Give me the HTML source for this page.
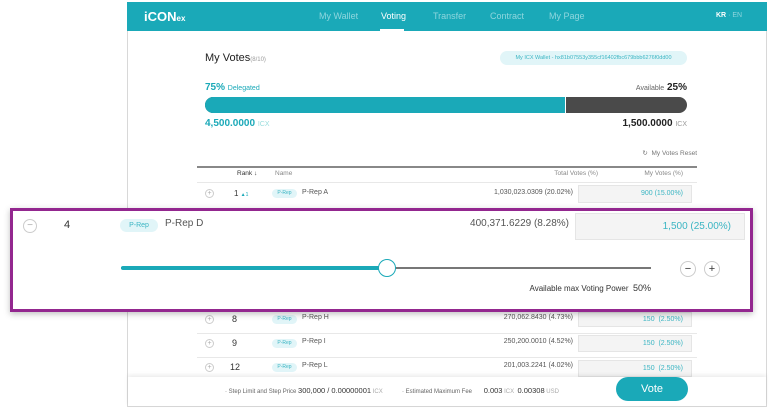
<!DOCTYPE html>
<html><head><meta charset="utf-8"><style>
*{margin:0;padding:0;box-sizing:border-box}
body{width:769px;height:411px;overflow:hidden;background:#fff;font-family:"Liberation Sans",sans-serif;position:relative;color:#333}
.a{position:absolute;white-space:nowrap}
.frame{left:127px;top:2px;width:640px;height:405px;border:1px solid #d8d8d8;background:#fff}
.hdr{left:127px;top:2px;width:640px;height:29px;background:#1aa9b8}
.nav{top:11px;font-size:9px;color:#8fd6de}
.pill{background:#e1f5f8;color:#3bb5c3;border-radius:8px;font-size:6px;text-align:center}
.circ{border:1px solid #ccc;border-radius:50%;color:#aaa;text-align:center;background:#fff}
.box{background:#f4f4f4;border:1px solid #e5e5e5;color:#3bb5c3;text-align:right}
.line{height:1px;background:#e8e8e8}
</style></head><body>
<div class="a frame"></div>
<div class="a hdr"></div>
<div class="a" style="left:144px;top:9px;font-size:13px;color:#fff;font-weight:bold">iCON<span style="font-size:8px">ex</span></div>
<div class="a nav" style="left:319px">My Wallet</div>
<div class="a nav" style="left:381px;color:#fff">Voting</div>
<div class="a" style="left:380px;top:29px;width:24px;height:2px;background:#fff"></div>
<div class="a nav" style="left:433px">Transfer</div>
<div class="a nav" style="left:490px">Contract</div>
<div class="a nav" style="left:549px">My Page</div>
<div class="a" style="left:716px;top:12px;font-size:7px;color:#fff"><b>KR</b> <span style="color:#8fd6de">· EN</span></div>

<div class="a" style="left:205px;top:52px;font-size:11px;color:#222">My Votes<span style="font-size:6px;color:#999">(8/10)</span></div>
<div class="a pill" style="left:500px;top:51px;width:187px;height:14px;line-height:14px;border-radius:7px;font-size:5.5px">My ICX Wallet - hx81b07553y355cf16402fbc679bbb6276f0dd00</div>
<div class="a" style="left:205px;top:82px;font-size:10px;color:#1aa9b8;font-weight:bold">75% <span style="font-size:7px;font-weight:normal">Delegated</span></div>
<div class="a" style="right:82px;top:82px;font-size:10px;color:#222;font-weight:bold"><span style="font-size:7px;font-weight:normal;color:#666">Available</span> 25%</div>
<div class="a" style="left:205px;top:97px;width:482px;height:16px;border-radius:8px;background:#4a4a4a;overflow:hidden"><div style="width:361px;height:16px;background:#1aa9b8;border-right:1px solid #fff"></div></div>
<div class="a" style="left:205px;top:118px;font-size:10px;color:#1aa9b8;font-weight:bold">4,500.0000 <span style="font-size:7px;font-weight:normal;color:#9dd">ICX</span></div>
<div class="a" style="right:82px;top:118px;font-size:10px;color:#222;font-weight:bold">1,500.0000 <span style="font-size:7px;font-weight:normal;color:#999">ICX</span></div>

<div class="a" style="right:72px;top:149px;font-size:6.5px;color:#777">↻ &nbsp;My Votes Reset</div>
<div class="a" style="left:197px;top:166px;width:500px;height:2px;background:#888"></div>
<div class="a" style="left:237px;top:170px;font-size:6.5px;color:#333">Rank ↓</div>
<div class="a" style="left:275px;top:170px;font-size:6.5px;color:#888">Name</div>
<div class="a" style="right:171px;top:170px;font-size:6.5px;color:#888">Total Votes (%)</div>
<div class="a" style="right:86px;top:170px;font-size:6.5px;color:#888">My Votes (%)</div>
<div class="a line" style="left:197px;top:182px;width:500px"></div>

<!-- row 1 -->
<div class="a circ" style="left:205px;top:189px;width:9px;height:9px;font-size:7px;line-height:8px">+</div>
<div class="a" style="left:234px;top:189px;font-size:8px">1 <span style="font-size:5px;color:#1aa9b8">▲1</span></div>
<div class="a pill" style="left:272px;top:189px;width:25px;height:9px;line-height:9px;font-size:5px">P-Rep</div>
<div class="a" style="left:302px;top:189px;font-size:7px;color:#555">P-Rep A</div>
<div class="a" style="right:196px;top:189px;font-size:7px;color:#555">1,030,023.0309 (20.02%)</div>
<div class="a box" style="left:578px;top:185px;width:114px;height:18px;font-size:7px;line-height:16px;padding-right:8px">900 (15.00%)</div>

<!-- rows below -->
<div class="a circ" style="left:205px;top:315px;width:9px;height:9px;font-size:7px;line-height:8px">+</div>
<div class="a" style="left:232px;top:314px;font-size:9px">8</div>
<div class="a pill" style="left:272px;top:315px;width:25px;height:9px;line-height:9px;font-size:5px">P-Rep</div>
<div class="a" style="left:302px;top:314px;font-size:7px;color:#555">P-Rep H</div>
<div class="a" style="right:196px;top:314px;font-size:7px;color:#555">270,062.8430 (4.73%)</div>
<div class="a box" style="left:578px;top:312px;width:114px;height:15px;font-size:7px;line-height:13px;padding-right:8px">150 &nbsp;(2.50%)</div>
<div class="a line" style="left:197px;top:333px;width:500px"></div>

<div class="a circ" style="left:205px;top:339px;width:9px;height:9px;font-size:7px;line-height:8px">+</div>
<div class="a" style="left:232px;top:338px;font-size:9px">9</div>
<div class="a pill" style="left:272px;top:339px;width:25px;height:9px;line-height:9px;font-size:5px">P-Rep</div>
<div class="a" style="left:302px;top:338px;font-size:7px;color:#555">P-Rep I</div>
<div class="a" style="right:196px;top:338px;font-size:7px;color:#555">250,200.0010 (4.52%)</div>
<div class="a box" style="left:578px;top:335px;width:114px;height:17px;font-size:7px;line-height:15px;padding-right:8px">150 &nbsp;(2.50%)</div>
<div class="a line" style="left:197px;top:357px;width:500px"></div>

<div class="a circ" style="left:205px;top:363px;width:9px;height:9px;font-size:7px;line-height:8px">+</div>
<div class="a" style="left:230px;top:362px;font-size:9px">12</div>
<div class="a pill" style="left:272px;top:363px;width:25px;height:9px;line-height:9px;font-size:5px">P-Rep</div>
<div class="a" style="left:302px;top:362px;font-size:7px;color:#555">P-Rep L</div>
<div class="a" style="right:196px;top:362px;font-size:7px;color:#555">201,003.2241 (4.02%)</div>
<div class="a box" style="left:578px;top:360px;width:114px;height:17px;font-size:7px;line-height:15px;padding-right:8px">150 &nbsp;(2.50%)</div>

<!-- footer -->
<div class="a" style="left:128px;top:377px;width:638px;height:29px;background:#fff;box-shadow:0 -2px 4px rgba(0,0,0,0.08)"></div>
<div class="a" style="left:225px;top:386px;font-size:6px;color:#666">· Step Limit and Step Price <span style="font-size:7.5px;color:#333">300,000 / 0.00000001</span> <span style="color:#aaa">ICX</span></div>
<div class="a" style="left:402px;top:386px;font-size:6px;color:#666">· Estimated Maximum Fee &nbsp;&nbsp;&nbsp;&nbsp;&nbsp;&nbsp;<span style="font-size:7.5px;color:#333">0.003</span> <span style="color:#aaa">ICX</span> &nbsp;<span style="font-size:7.5px;color:#333">0.00308</span> <span style="color:#aaa">USD</span></div>
<div class="a" style="left:616px;top:377px;width:72px;height:24px;border-radius:12px;background:#1aa9b8;color:#fff;font-size:11px;text-align:center;line-height:24px">Vote</div>

<!-- highlighted expanded row -->
<div class="a" style="left:10px;top:208px;width:743px;height:104px;border:3px solid #93278f;background:#fff;box-shadow:0 2px 6px rgba(0,0,0,0.25)"></div>
<div class="a circ" style="left:23px;top:219px;width:14px;height:14px;font-size:10px;line-height:12px">−</div>
<div class="a" style="left:64px;top:219px;font-size:11px">4</div>
<div class="a pill" style="left:120px;top:219px;width:38px;height:13px;line-height:13px;font-size:7px;border-radius:7px">P-Rep</div>
<div class="a" style="left:165px;top:218px;font-size:10px;color:#555">P-Rep D</div>
<div class="a" style="right:200px;top:218px;font-size:10px;color:#555">400,371.6229 (8.28%)</div>
<div class="a box" style="left:575px;top:213px;width:170px;height:27px;font-size:10px;line-height:25px;padding-right:13px">1,500 (25.00%)</div>
<div class="a" style="left:121px;top:267px;width:530px;height:2px;background:#777"></div>
<div class="a" style="left:121px;top:266px;width:266px;height:4px;border-radius:2px;background:#1aa9b8"></div>
<div class="a" style="left:378px;top:259px;width:18px;height:18px;border-radius:50%;border:1.5px solid #1aa9b8;background:#fff"></div>
<div class="a circ" style="left:680px;top:261px;width:16px;height:16px;font-size:11px;line-height:14px;color:#333">−</div>
<div class="a circ" style="left:704px;top:261px;width:16px;height:16px;font-size:11px;line-height:14px;color:#333">+</div>
<div class="a" style="right:118px;top:283px;font-size:8px;color:#333">Available max Voting Power &nbsp;<span style="font-size:9px">50%</span></div>
</body></html>
